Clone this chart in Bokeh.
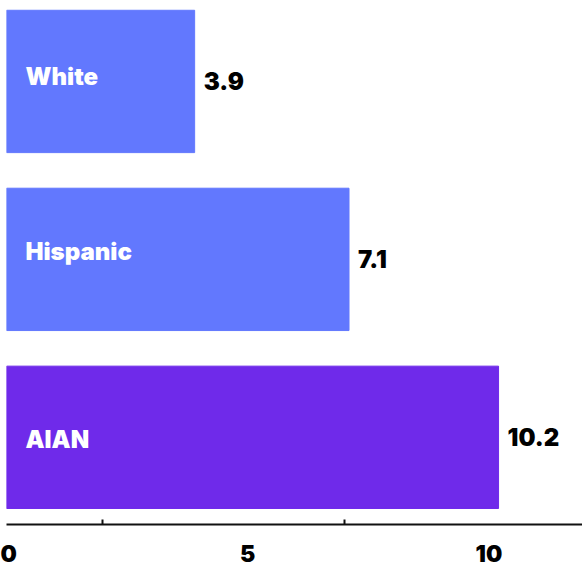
from bokeh.plotting import figure
from bokeh.models import ColumnDataSource, Range1d, FixedTicker
from bokeh.core.properties import value
from bokeh.embed import file_html
from bokeh.resources import INLINE

categories = ["White", "Hispanic", "AIAN"]
rates = [3.9, 7.1, 10.2]
value_labels = ["3.9", "7.1", "10.2"]
tick_values = [0, 5, 10]
minor_tick_values = [2, 7]

# styling (kept apart from the data)
bar_colors = ["#6278FE", "#6278FE", "#6F2AEA"]
category_label_nudge = [-5, -8, 2]

n = len(categories)
ypos = [n - 1 - i for i in range(n)]

src = ColumnDataSource(dict(y=ypos, rate=rates, cat=categories, color=bar_colors,
                            lab=value_labels, zero=[0] * n, nudge=category_label_nudge))

p = figure(width=582, height=570, output_backend="svg", toolbar_location=None,
           x_range=Range1d(0, 11.94), y_range=Range1d(-0.49, n - 1 + 0.41),
           min_border_left=6, min_border_right=0, min_border_top=8, min_border_bottom=46)
p.outline_line_color = None
p.grid.visible = False
p.yaxis.visible = False

p.hbar(y="y", left=0, right="rate", height=0.8, color="color", source=src)

FSTACK = "'Inter Black', 'Inter ExtraBold', Inter"
FONT = value(FSTACK)
p.text(x="zero", y="y", text="cat", source=src, x_offset=19, y_offset="nudge",
       text_baseline="middle", text_align="left", text_color="white", text_font=FONT,
       text_font_style="bold", text_font_size="24px")
p.text(x="rate", y="y", text="lab", source=src, x_offset=9, text_baseline="middle",
       text_align="left", text_color="#000000", text_font=FONT, text_font_style="bold",
       text_font_size="24px")

ax = p.xaxis[0]
ax.ticker = FixedTicker(ticks=tick_values, minor_ticks=minor_tick_values)
ax.axis_line_color = "#111111"
ax.axis_line_width = 2
ax.major_tick_in = 0
ax.major_tick_out = 0
ax.minor_tick_in = 5
ax.minor_tick_out = 0
ax.minor_tick_line_color = "#111111"
ax.minor_tick_line_width = 2
ax.major_label_standoff = 20
ax.major_label_text_font = FSTACK
ax.major_label_text_font_style = "bold"
ax.major_label_text_font_size = "23px"
ax.major_label_text_color = "#000000"

open("out.html", "w").write(file_html(p, INLINE))
